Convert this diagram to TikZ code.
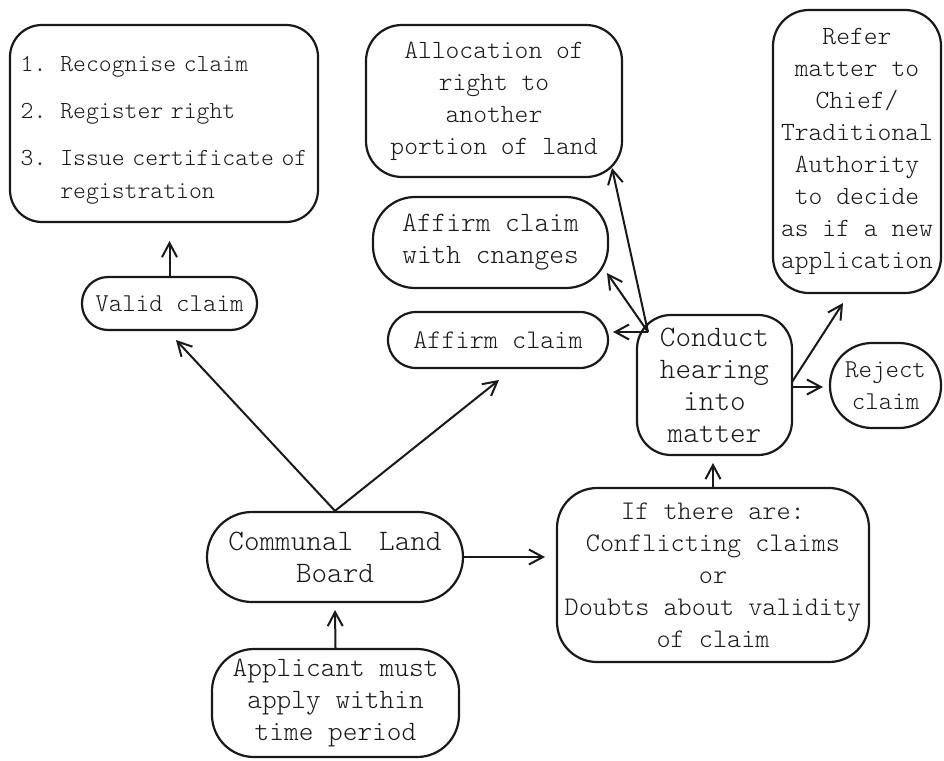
\documentclass[tikz,border=0pt]{standalone}
\usepackage{fontspec}
\setmainfont{Latin Modern Mono Light}
\newfontfamily\listfont{Latin Modern Mono Light}[WordSpace=0.6]
\usetikzlibrary{arrows.meta}
\begin{document}
\begin{tikzpicture}[x=1pt,y=-1pt,
  box/.style={draw=black!90, line width=2.2pt, align=center, inner sep=0pt, text=black!90},
  arr/.style={draw=black!90, line width=2pt, -{Straight Barb[length=14pt,width=15pt]}},
  fs/.style={font=\fontsize{#1}{32}\selectfont}]
\useasboundingbox[fill=white] (0,0) rectangle (944,760);

% nodes
\node[box, minimum width=308pt, minimum height=197pt, rounded corners=32pt,
      font=\listfont\fontsize{24.5}{33}\selectfont] (list) at (164,123.5)
  {\raisebox{-5pt}[\height][\depth]{\begin{tabular}{@{}l@{\hspace{14pt}}l@{}}
   1. & Recognise claim\\[14pt]
   2. & Register right\\[14pt]
   3. & Issue certificate of\\
      & registration
   \end{tabular}}};
\node[box, fs=25.7, minimum width=175pt, minimum height=53pt, rounded corners=26pt] (valid) at (169.5,303.5) {Valid claim};
\node[box, fs=26.3, minimum width=256pt, minimum height=152pt, rounded corners=36pt] (alloc) at (494,101)
  {Allocation of\\right to\\another\\portion of land};
\node[box, fs=28, minimum width=235pt, minimum height=91pt, rounded corners=42pt] (affch) at (490.5,242.5)
  {Affirm claim\\with cnanges};
\node[box, fs=26.9, minimum width=220pt, minimum height=56pt, rounded corners=28pt] (affirm) at (498,340) {Affirm claim};
\node[box, fs=29.7, minimum width=155pt, minimum height=140pt, rounded corners=34pt] (conduct) at (714.5,385)
  {Conduct\\hearing\\into\\matter};
\node[box, fs=26.3, minimum width=168pt, minimum height=283pt, rounded corners=36pt] (refer) at (857,151.5)
  {Refer\\matter to\\Chief/\\Traditional\\Authority\\to decide\\as if a new\\application};
\node[box, fs=25.7, minimum width=111pt, minimum height=85pt, rounded corners=42pt] (reject) at (885.5,385.5)
  {Reject\\claim};
\node[box, fs=29.7, minimum width=256pt, minimum height=90pt, rounded corners=45pt] (board) at (335,557)
  {Communal\hspace{26pt}Land\\Board};
\node[box, fs=28, minimum width=247pt, minimum height=108pt, rounded corners=42pt] (app) at (335.5,703)
  {Applicant must\\apply within\\time period};
\node[box, fs=26.9, minimum width=312pt, minimum height=174pt, rounded corners=40pt] (ifbox) at (713,575)
  {If there are:\\Conflicting claims\\or\\Doubts about validity\\of claim};

% arrow tips and origins
\coordinate (tApp) at (335,610);
\coordinate (tValid) at (176,340);
\coordinate (tAffirm) at (499,380);
\coordinate (tIf) at (545,557);
\coordinate (tConduct) at (713,463);
\coordinate (tList) at (169.5,241);
\coordinate (cL) at (648,332);
\coordinate (cR) at (792,382);
\coordinate (cR2) at (792,387);
\coordinate (tAlloc) at (612,168);
\coordinate (tAffch) at (607,273);
\coordinate (tAff) at (613,332);
\coordinate (tRefer) at (843,303);
\coordinate (tReject) at (823,387);

% connectors
\draw[arr] (app.north) -- (tApp);
\draw[arr] (board.north) -- (tValid);
\draw[arr] (board.north) -- (tAffirm);
\draw[arr] (board.east) -- (tIf);
\draw[arr] (ifbox.north) -- (tConduct);
\draw[arr] (valid.north) -- (tList);
\draw[arr] (cL) -- (tAlloc);
\draw[arr] (cL) -- (tAffch);
\draw[arr] (cL) -- (tAff);
\draw[arr] (cR) -- (tRefer);
\draw[arr] (cR2) -- (tReject);
\end{tikzpicture}
\end{document}
